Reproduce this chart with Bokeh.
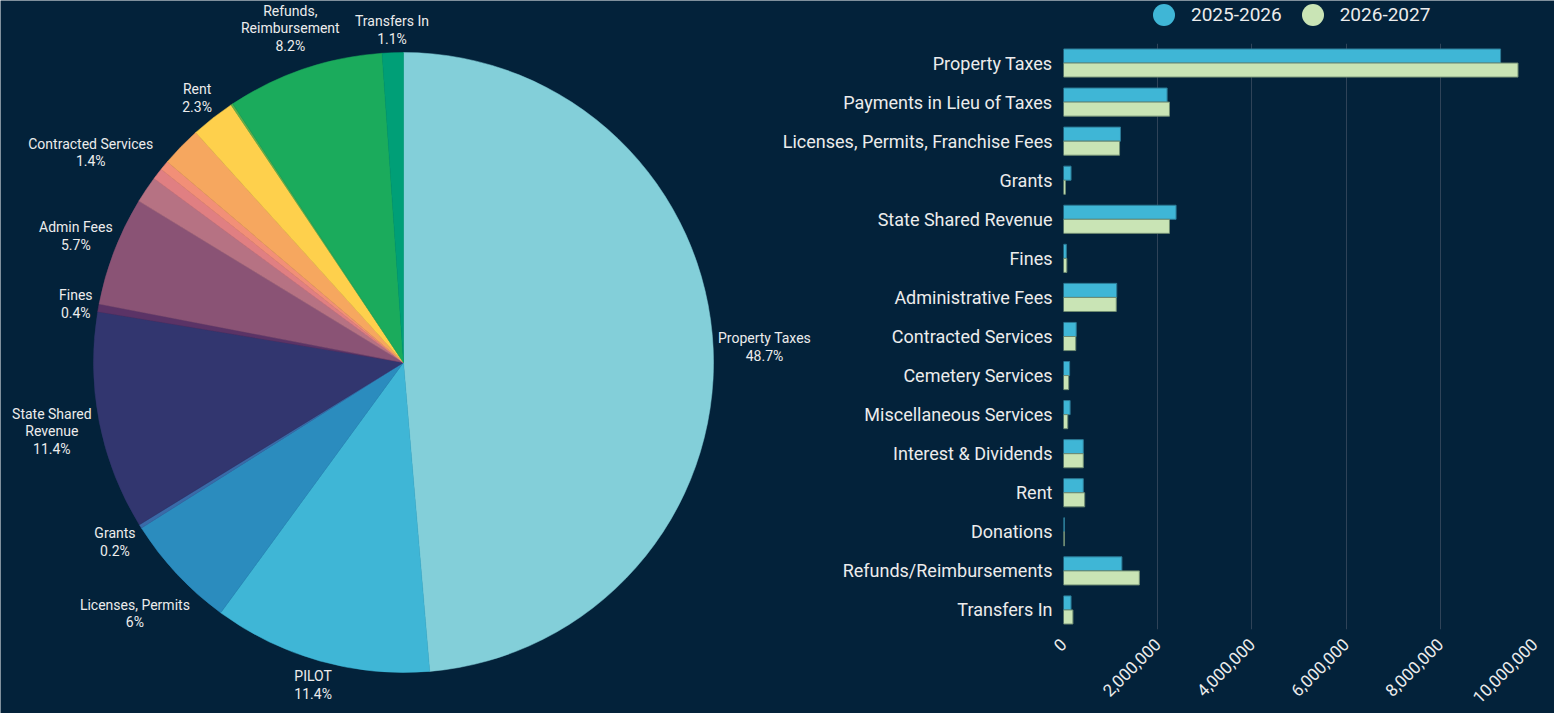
import math
from bokeh.plotting import figure
from bokeh.models import Range1d, FactorRange, Legend, LegendItem, NumeralTickFormatter, SingleIntervalTicker, ColumnDataSource
from bokeh.transform import dodge
from bokeh.core.properties import value
from bokeh.embed import file_html
from bokeh.resources import INLINE

# ---------------- data ----------------
categories = ["Property Taxes", "Payments in Lieu of Taxes", "Licenses, Permits, Franchise Fees",
              "Grants", "State Shared Revenue", "Fines", "Administrative Fees", "Contracted Services",
              "Cemetery Services", "Miscellaneous Services", "Interest & Dividends", "Rent",
              "Donations", "Refunds/Reimbursements", "Transfers In"]
fy_2025_2026 = [9280000, 2200000, 1210000, 160000, 2390000, 60000, 1130000, 270000,
                130000, 140000, 420000, 420000, 20000, 1240000, 160000]
fy_2026_2027 = [9650000, 2250000, 1190000, 40000, 2250000, 70000, 1120000, 260000,
                110000, 90000, 420000, 450000, 20000, 1610000, 200000]
series_names = ["2025-2026", "2026-2027"]
series_colors = ["#3fb6d6", "#c9e4b5"]

pie_labels = ["Property Taxes", "PILOT", "Licenses, Permits", "Grants", "State Shared\nRevenue",
              "Fines", "Admin Fees", "Contracted Services", "", "", "", "Rent", "",
              "Refunds,\nReimbursement", "Transfers In"]
pie_pct = [48.7, 11.4, 6, 0.2, 11.4, 0.4, 5.7, 1.4, 0.6, 0.5, 2.1, 2.3, 0.1, 8.2, 1.1]
pie_colors = ["#83cfd9", "#3fb6d6", "#2b8cbe", "#3a6aa8", "#32366f", "#5b3366", "#8a5375",
              "#b67283", "#e07f82", "#f28f77", "#f6a75f", "#fed04c", "#62b04a", "#1bab5c", "#009f77"]

BG = "#03223a"
TXT = "#ececec"
FONT = "Roboto"

# ---------------- page-wide figure with the pie ----------------
W, H = 1554, 713
p1 = figure(width=W, height=H, x_range=Range1d(0, W), y_range=Range1d(0, H),
            x_axis_location=None, y_axis_location=None, toolbar_location=None,
            output_backend="svg", min_border=0)
p1.background_fill_color = BG
p1.border_fill_color = BG
p1.outline_line_color = None
p1.xgrid.visible = False
p1.ygrid.visible = False

cx, cy, R = 403, 351, 310
total = sum(pie_pct)
starts, ends, mids = [], [], []
acc = 0.0
for v in pie_pct:
    a0 = acc / total
    acc += v
    a1 = acc / total
    starts.append(math.pi / 2 - 2 * math.pi * a0)
    ends.append(math.pi / 2 - 2 * math.pi * a1)
    mids.append(math.pi / 2 - 2 * math.pi * (a0 + a1) / 2)

src = ColumnDataSource(dict(start=starts, end=ends, color=pie_colors))
p1.wedge(x=cx, y=cy, radius=R, start_angle="start", end_angle="end", direction="clock",
         fill_color="color", line_color="color", line_width=0.5, source=src)

# outside labels: block centre pushed out along the slice bisector by its half extent
FS, LHF = 14, 1.3
lx, ly, lt = [], [], []
for lab, v, m in zip(pie_labels, pie_pct, mids):
    if not lab:
        continue
    txt = f"{lab}\n{v:g}%"
    lines = txt.split("\n")
    w = max(len(s) for s in lines) * 0.486 * FS
    h = len(lines) * LHF * FS
    dx, dy = math.cos(m), math.sin(m)
    d = R + 3 + (w / 2) * abs(dx) + (h / 2) * abs(dy)
    lx.append(cx + d * dx)
    ly.append(cy + d * dy)
    lt.append(txt)
p1.text(x=lx, y=ly, text=lt, anchor="center", text_align="center",
        text_font=value(FONT), text_font_size=f"{FS}px", text_color=TXT, text_line_height=1.1)

# legend (circle markers) at the top right
l1 = p1.scatter(x=[-100], y=[-100], marker="circle", size=22, fill_color=series_colors[0], line_color=None)
l2 = p1.scatter(x=[-100], y=[-100], marker="circle", size=22, fill_color=series_colors[1], line_color=None)
legend = Legend(items=[LegendItem(label=series_names[0], renderers=[l1]),
                       LegendItem(label=series_names[1], renderers=[l2])],
                orientation="horizontal", location=(1136, 671.5), background_fill_alpha=0,
                border_line_color=None, label_text_color=TXT, label_text_font=FONT,
                label_text_font_size="19px", glyph_width=55, glyph_height=55,
                label_standoff=0, spacing=3, padding=0, margin=0)
p1.add_layout(legend, "center")

# ---------------- bars ----------------
LEFT = 778
p2 = figure(width=W - LEFT, height=H, y_range=FactorRange(factors=categories[::-1]),
            x_range=Range1d(0, 10000000), toolbar_location=None, output_backend="svg",
            min_border_left=285, min_border_right=20, min_border_top=43, min_border_bottom=84)
p2.background_fill_alpha = 0
p2.border_fill_alpha = 0
p2.outline_line_color = None
p2.styles = {"position": "absolute", "left": f"{LEFT}px", "top": "0px"}

bsrc = ColumnDataSource(dict(cat=categories, a=fy_2025_2026, b=fy_2026_2027))
p2.hbar(y=dodge("cat", 0.18, range=p2.y_range), right="a", left=0, height=0.36,
        fill_color=series_colors[0], line_color="#2c7a95", line_width=1, source=bsrc)
p2.hbar(y=dodge("cat", -0.18, range=p2.y_range), right="b", left=0, height=0.36,
        fill_color=series_colors[1], line_color="#6f8c72", line_width=1, source=bsrc)

p2.ygrid.visible = False
p2.xgrid.grid_line_color = "#2f4358"
p2.xgrid.grid_line_width = 1
p2.xaxis.ticker = SingleIntervalTicker(interval=2000000)
p2.xaxis.formatter = NumeralTickFormatter(format="0,0")
p2.xaxis.major_label_orientation = math.pi / 4
p2.xaxis.axis_line_color = None
p2.xaxis.major_tick_line_color = None
p2.xaxis.minor_tick_line_color = None
p2.xaxis.major_tick_out = 0
p2.xaxis.major_tick_in = 0
p2.xaxis.major_label_text_color = TXT
p2.xaxis.major_label_text_font = FONT
p2.xaxis.major_label_text_font_size = "17px"
p2.xaxis.major_label_standoff = 8
p2.yaxis.axis_line_color = None
p2.yaxis.major_tick_line_color = None
p2.yaxis.minor_tick_line_color = None
p2.yaxis.major_tick_out = 0
p2.yaxis.major_tick_in = 0
p2.yaxis.major_label_text_color = TXT
p2.yaxis.major_label_text_font = FONT
p2.yaxis.major_label_text_font_size = "18px"
p2.yaxis.major_label_standoff = 11

open("out.html", "w").write(file_html([p1, p2], INLINE))
